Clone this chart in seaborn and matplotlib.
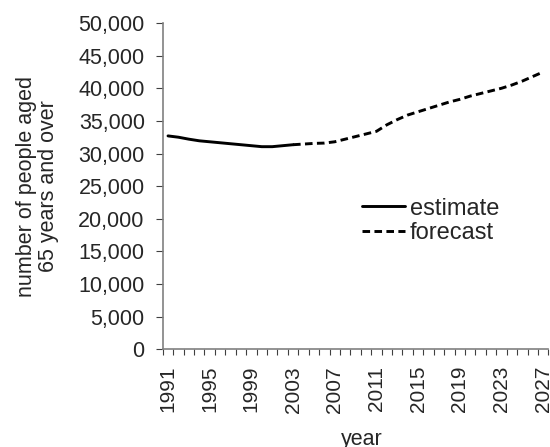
import numpy as np
import pandas as pd
import matplotlib.pyplot as plt
import seaborn as sns
from matplotlib.ticker import FuncFormatter, MultipleLocator, FixedLocator

est_years = list(range(1991, 2004))
est_values = [32700, 32500, 32200, 31950, 31800, 31650, 31500, 31350,
              31200, 31050, 31050, 31200, 31350]

fc_years = list(range(2003, 2028))
fc_values = [31350, 31450, 31550, 31600, 31800, 32200, 32600, 33000,
             33400, 34400, 35200, 35900, 36400, 36900, 37400, 37900,
             38300, 38800, 39200, 39600, 40000, 40500, 41100, 41800, 42500]

label_years = list(range(1991, 2028, 4))

df = pd.concat([
    pd.DataFrame({"year": est_years, "people": est_values, "series": "estimate"}),
    pd.DataFrame({"year": fc_years, "people": fc_values, "series": "forecast"}),
])

sns.set_style("white")
plt.rcParams["font.family"] = ["Liberation Sans", "DejaVu Sans"]

fig = plt.figure(figsize=(5.5, 4.47), dpi=100)
ax = fig.add_axes([0.296, 0.2186, 0.701, 0.7299])

sns.lineplot(data=df, x="year", y="people", style="series",
             dashes={"estimate": "", "forecast": (2.6, 1.5)},
             color="black", linewidth=2.1, ax=ax)

ax.set_xlim(1990.5, 2027.5)
ax.set_ylim(0, 50000)
ax.yaxis.set_major_locator(MultipleLocator(5000))
ax.yaxis.set_major_formatter(FuncFormatter(lambda v, p: f"{int(v):,}"))
ax.xaxis.set_major_locator(FixedLocator(label_years))
ax.xaxis.set_minor_locator(FixedLocator(np.arange(1990.5, 2028, 1)))
ax.tick_params(axis="x", which="major", length=0, labelsize=15,
               labelrotation=90, pad=12)
ax.tick_params(axis="x", which="minor", length=4, width=0.8,
               color="#404040", direction="out", bottom=True)
ax.tick_params(axis="y", length=5, width=0.8, color="#404040",
               direction="out", left=True, labelsize=15.5, pad=8)

for s in ["top", "right"]:
    ax.spines[s].set_visible(False)
for s in ["left", "bottom"]:
    ax.spines[s].set_color("#808080")
    ax.spines[s].set_linewidth(1.2)

ax.set_xlabel("year", fontsize=15.5)
ax.xaxis.set_label_coords(0.515, -0.245)
ax.set_ylabel("number of people aged\n65 years and over", fontsize=15.5,
              linespacing=1.05)
ax.yaxis.set_label_coords(-0.27, 0.5)

leg = ax.legend(loc="upper left", bbox_to_anchor=(0.516, 0.465), frameon=False,
                fontsize=17, handlelength=1.82, handletextpad=0.21,
                labelspacing=0.12, borderpad=0, borderaxespad=0)

fig.savefig("out.png", dpi=100)
